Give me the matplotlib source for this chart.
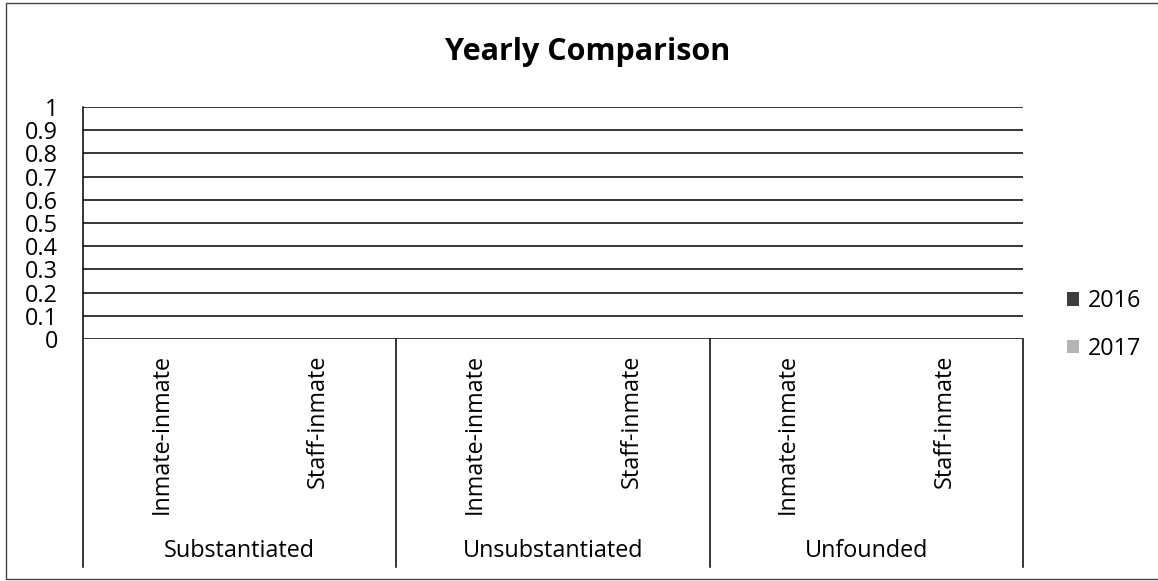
import matplotlib.pyplot as plt
from matplotlib.patches import Rectangle
from matplotlib.lines import Line2D
import numpy as np

plt.rcParams["font.family"] = ["Open Sans", "DejaVu Sans"]

groups = ["Substantiated", "Unsubstantiated", "Unfounded"]
subcats = ["Inmate-inmate", "Staff-inmate"] * 3
series = ["2016", "2017"]
values_2016 = [0, 0, 0, 0, 0, 0]
values_2017 = [0, 0, 0, 0, 0, 0]
colors = ["#3c3c3c", "#b4b4b4"]
yticks = [0, 0.1, 0.2, 0.3, 0.4, 0.5, 0.6, 0.7, 0.8, 0.9, 1]
FS = 16.8

W, H = 1158, 581
fig = plt.figure(figsize=(W / 100, H / 100), dpi=100)
fig.patch.set_facecolor("white")

# outer chart border (right edge falls outside the scan)
fig.add_artist(Rectangle((6 / W, 2 / H), 1.2, 1 - 5 / H, transform=fig.transFigure,
                         fill=False, edgecolor="#444444", linewidth=1.0))

ax = fig.add_axes([83 / W, 1 - 339 / H, 940 / W, 232 / H])
x = np.arange(len(subcats))
w = 0.35
ax.bar(x - w / 2, values_2016, w, color=colors[0], label=series[0])
ax.bar(x + w / 2, values_2017, w, color=colors[1], label=series[1])

ax.set_xlim(-0.5, len(subcats) - 0.5)
ax.set_ylim(0, 1)
ax.set_yticks(yticks)
ax.set_yticklabels([f"{v:g}" for v in yticks], fontsize=FS)
ax.tick_params(axis="y", length=0, pad=18)
ax.set_xticks(x)
ax.set_xticklabels(subcats, rotation=90, fontsize=FS, va="top")
ax.tick_params(axis="x", length=0, pad=11)

for s in ["top", "right", "bottom", "left"]:
    ax.spines[s].set_visible(False)
for v in yticks:
    ax.axhline(v, color="black", linewidth=1.1, zorder=0)

# category axis separators
ybot = (339 - 567) / 232
for xs in [-0.5, 1.5, 3.5, 5.5]:
    ax.add_line(Line2D([xs, xs], [ybot, 1 if xs == -0.5 else 0],
                       transform=ax.get_xaxis_transform(), color="black",
                       linewidth=1.1, clip_on=False))

for i, g in enumerate(groups):
    ax.text(2 * i + 0.5, (339 - 551) / 232, g, transform=ax.get_xaxis_transform(),
            ha="center", va="center", fontsize=FS)

fig.text(588 / W, 1 - 52 / H, "Yearly Comparison", ha="center", va="center",
         fontsize=22, fontweight="bold")

ax.legend(loc="center left", bbox_to_anchor=(1067 / W, 1 - 325 / H),
          bbox_transform=fig.transFigure, frameon=False, fontsize=FS,
          handlelength=0.5, handleheight=0.5, handletextpad=0.4,
          labelspacing=1.0, borderpad=0, borderaxespad=0)

fig.savefig("out.png", dpi=100, facecolor="white")
